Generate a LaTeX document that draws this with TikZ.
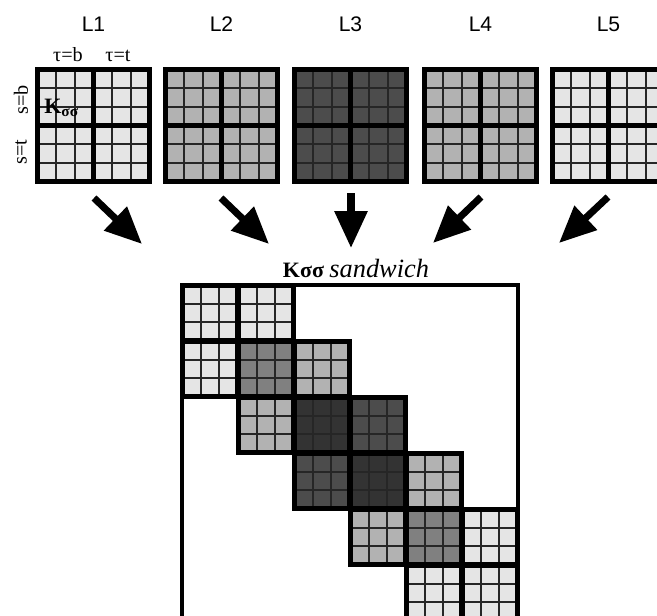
\documentclass[tikz,border=0pt]{standalone}
\usepackage{fontspec}
\setmainfont{Liberation Serif}
\setsansfont{Liberation Sans}
\usetikzlibrary{arrows.meta, calc}

\definecolor{lite}{gray}{0.9}
\definecolor{mid}{gray}{0.7}
\definecolor{dark}{gray}{0.3}
\definecolor{ovlite}{gray}{0.5}
\definecolor{ovdark}{gray}{0.2}

\begin{document}
\begin{tikzpicture}[x=0.02cm, y=-0.02cm]

	\tikzset{
		cell/.style={
				draw=black!85, line width=1pt
			},
		blk/.style={
				draw=black, line width=2.8pt, inner sep=0pt, outer sep=0pt, minimum size=31.75pt,
				path picture={
						\foreach \k in {1,2}{
								\draw[cell] ($(path picture bounding box.north west)!\k/3!(path picture bounding box.north east)$)
								-- ($(path picture bounding box.south west)!\k/3!(path picture bounding box.south east)$);
								\draw[cell] ($(path picture bounding box.north west)!\k/3!(path picture bounding box.south west)$)
								-- ($(path picture bounding box.north east)!\k/3!(path picture bounding box.south east)$);
							}
					}
			},
		lname/.style={
				font=\sffamily\fontsize{12}{12}\selectfont
			},
		small/.style={
				font=\fontsize{11.5}{11.5}\selectfont, inner sep=0pt
			},
		bigarrow/.style={
				line width=4pt, -{Triangle[length=21pt, width=18pt]}
			},
	}

	\useasboundingbox (0,0) rectangle (657,616);
	\clip (0,0) rectangle (657,616);

	% the five layer blocks
	\foreach \i/\x/\col in {1/93.5/lite, 2/221.5/mid, 3/350.5/dark, 4/480.5/mid, 5/608.5/lite}{
			\node[blk, fill=\col] (L\i-bb) at (\x-28,97.5) {};
			\node[blk, fill=\col] (L\i-bt) at (\x+28,97.5) {};
			\node[blk, fill=\col] (L\i-tb) at (\x-28,153.5) {};
			\node[blk, fill=\col] (L\i-tt) at (\x+28,153.5) {};
			\node[lname] (n\i) at (\x,24) {L\i};
		}

	\node[small, anchor=base] (taub) at (68,61) {τ=b};
	\node[small, anchor=base] (taut) at (118,61) {τ=t};
	\node[small, rotate=90] (sb) at (21,100) {s=b};
	\node[small, rotate=90] (st) at (21,152) {s=t};
	\node[anchor=base west, inner sep=0pt, font=\fontsize{12.5}{12.5}\selectfont] (kin) at (44,113)
	{\textbf{K}\textsubscript{\textbf{σσ}}};

	% arrows
	\coordinate (a1s) at (94,198);  \coordinate (a1e) at (142,244);
	\coordinate (a2s) at (221,198); \coordinate (a2e) at (269,244);
	\coordinate (a3s) at (351,193); \coordinate (a3e) at (351,248);
	\coordinate (a4s) at (481,197); \coordinate (a4e) at (433,243);
	\coordinate (a5s) at (608,197); \coordinate (a5e) at (559,243);
	\foreach \i in {1,...,5}
	\draw[bigarrow] (a\i s) -- (a\i e);

	% the sandwich
	\node[anchor=base, font=\fontsize{12.5}{12.5}\selectfont] (title) at (356,277)
	{\textbf{Kσσ} \textit{\fontsize{15}{15}\selectfont sandwich}};
	\draw[line width=2.3pt] (182,285) rectangle (518,621);
	\foreach \r/\c/\col in {0/0/lite, 0/1/lite,
			1/0/lite, 1/1/ovlite, 1/2/mid,
			2/1/mid, 2/2/ovdark, 2/3/dark,
			3/2/dark, 3/3/ovdark, 3/4/mid,
			4/3/mid, 4/4/ovlite, 4/5/lite,
			5/4/lite, 5/5/lite}{
			\node[blk, fill=\col] (B\r\c) at ({210+56*\c},{313+56*\r}) {};
		}

\end{tikzpicture}
\end{document}
